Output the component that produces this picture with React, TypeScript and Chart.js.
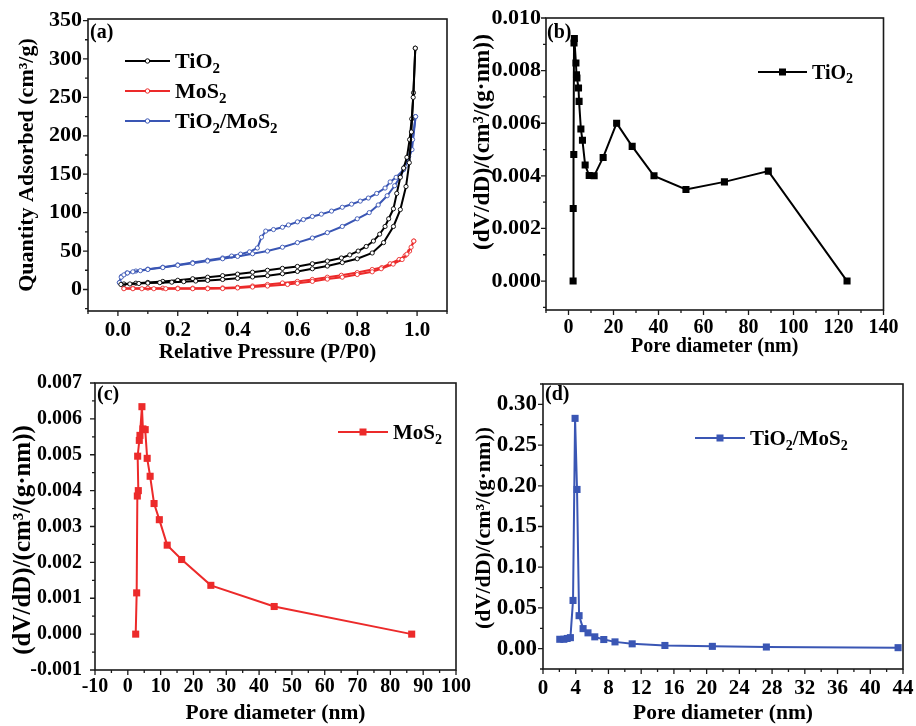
import React, { useEffect, useRef } from 'react';
import { Chart, registerables } from 'chart.js';

Chart.register(...registerables);

// ---------------- DATA ----------------
// (a) N2 adsorption-desorption isotherms: P/P0 vs quantity adsorbed (cm3/g)
const tio2AdsP = [0.010, 0.040, 0.070, 0.100, 0.140, 0.180, 0.220, 0.260, 0.300, 0.350, 0.400, 0.450, 0.500, 0.550, 0.600, 0.650, 0.700, 0.750, 0.800, 0.850, 0.888, 0.921, 0.944, 0.963, 0.974, 0.981, 0.987, 0.994];
const tio2AdsQ = [6.5, 7.2, 7.8, 8.3, 8.9, 9.5, 10.2, 11.0, 11.8, 13.0, 14.5, 16.3, 18.0, 20.5, 23.5, 27.0, 30.5, 35.0, 40.0, 47.5, 61, 82, 104, 134, 165, 205, 250, 314];
const tio2DesP = [0.994, 0.988, 0.982, 0.975, 0.966, 0.955, 0.944, 0.932, 0.921, 0.905, 0.893, 0.875, 0.854, 0.830, 0.803, 0.775, 0.747, 0.700, 0.650, 0.600, 0.550, 0.500, 0.450, 0.400, 0.350, 0.300, 0.250, 0.200, 0.150, 0.100, 0.060, 0.020];
const tio2DesQ = [314, 256, 222, 195, 172, 158, 146, 125, 105, 92, 82, 72, 63, 56, 50, 45, 41, 37, 33.5, 30, 27.5, 25, 22.5, 20, 18, 16, 14, 12, 10.5, 9.2, 8.2, 7.2];

const mos2AdsP = [0.02, 0.05, 0.08, 0.12, 0.16, 0.20, 0.25, 0.30, 0.35, 0.40, 0.45, 0.50, 0.567, 0.60, 0.65, 0.70, 0.75, 0.80, 0.85, 0.88, 0.92, 0.95, 0.966, 0.98, 0.989];
const mos2AdsQ = [1.0, 1.0, 1.0, 1.0, 1.0, 1.0, 1.0, 1.0, 1.2, 2.0, 3.2, 4.5, 6.5, 8.0, 10.5, 13.5, 16.0, 19.5, 23.0, 27.0, 33.0, 39.0, 46.0, 55.0, 63.0];
const mos2DesP = [0.989, 0.975, 0.960, 0.940, 0.910, 0.882, 0.850, 0.800, 0.747, 0.700, 0.650, 0.600, 0.550, 0.500, 0.450, 0.400, 0.350, 0.300, 0.250, 0.200, 0.150, 0.100, 0.050, 0.020];
const mos2DesQ = [63, 50, 44, 39, 33.5, 28.5, 26, 22, 18.5, 16, 13, 10.5, 8.5, 6.5, 4.5, 2.8, 2.0, 1.8, 1.7, 1.7, 1.7, 1.7, 1.7, 1.7];

const compAdsP = [0.005, 0.011, 0.020, 0.032, 0.050, 0.075, 0.100, 0.150, 0.200, 0.250, 0.300, 0.350, 0.400, 0.450, 0.500, 0.550, 0.600, 0.650, 0.700, 0.750, 0.800, 0.840, 0.870, 0.900, 0.925, 0.944, 0.960, 0.972, 0.985, 0.995];
const compAdsQ = [9, 16, 19, 21.5, 23, 24.5, 26, 28.5, 31.5, 34, 37, 40, 43, 46.5, 50, 55, 61, 67, 74, 82, 92, 100, 110, 122, 135, 147, 160, 173, 195, 225];
const compDesP = [0.995, 0.983, 0.970, 0.955, 0.930, 0.910, 0.893, 0.865, 0.837, 0.810, 0.781, 0.750, 0.714, 0.680, 0.650, 0.620, 0.600, 0.570, 0.550, 0.520, 0.494, 0.480, 0.466, 0.440, 0.410, 0.380, 0.350, 0.300, 0.250, 0.200, 0.150, 0.100, 0.060, 0.030, 0.012, 0.005];
const compDesQ = [225, 182, 168, 156, 146, 140, 132, 125, 119, 115, 111, 107, 102, 98, 95, 91, 88, 84, 81, 78, 76, 68, 54, 49, 46, 43.5, 41, 38, 35, 32, 29, 26.5, 24, 21.5, 17, 9];

// (b) TiO2 pore size distribution
const tio2PoreD = [2.05, 2.1, 2.35, 2.45, 2.6, 3.3, 3.55, 3.75, 4.45, 4.7, 5.5, 6.2, 7.4, 9.2, 11.4, 15.4, 21.4, 28.3, 38.0, 52.2, 69.3, 88.8, 123.8];
const tio2PoreV = [0, 0.00276, 0.00481, 0.00905, 0.00922, 0.00829, 0.00784, 0.00772, 0.00734, 0.00683, 0.00578, 0.00535, 0.00441, 0.00401, 0.004, 0.0047, 0.006, 0.00512, 0.004, 0.00348, 0.00377, 0.00418, 0];

// (c) MoS2 pore size distribution
const mos2PoreD = [2.4, 2.7, 2.9, 3.2, 3.0, 3.5, 3.7, 4.3, 4.6, 5.3, 5.9, 6.8, 8.0, 9.6, 12.0, 16.4, 25.3, 44.6, 86.5];
const mos2PoreV = [0, 0.00115, 0.00385, 0.004, 0.00496, 0.0054, 0.00554, 0.00634, 0.00572, 0.0057, 0.0049, 0.0044, 0.00364, 0.00319, 0.00248, 0.00208, 0.00136, 0.00077, 0];

// (d) TiO2/MoS2 pore size distribution
const compPoreD = [2.05, 2.55, 2.95, 3.35, 3.67, 3.92, 4.16, 4.41, 4.9, 5.5, 6.33, 7.43, 8.8, 10.9, 14.9, 20.7, 27.3, 43.4];
const compPoreV = [0.0115, 0.0115, 0.0125, 0.0135, 0.0592, 0.2828, 0.1955, 0.0405, 0.0246, 0.0194, 0.0145, 0.0112, 0.0083, 0.0059, 0.0039, 0.0028, 0.002, 0.0012];

// tick labels
const aXTicks = [0, 0.2, 0.4, 0.6, 0.8, 1.0];
const aYTicks = [0, 50, 100, 150, 200, 250, 300, 350];
const bXTicks = [0, 20, 40, 60, 80, 100, 120, 140];
const bYTicks = [0, 0.002, 0.004, 0.006, 0.008, 0.010];
const cXTicks = [-10, 0, 10, 20, 30, 40, 50, 60, 70, 80, 90, 100];
const cYTicks = [-0.001, 0, 0.001, 0.002, 0.003, 0.004, 0.005, 0.006, 0.007];
const dXTicks = [0, 4, 8, 12, 16, 20, 24, 28, 32, 36, 40, 44];
const dYTicks = [0, 0.05, 0.10, 0.15, 0.20, 0.25, 0.30];

const seriesNames = ['TiO₂', 'MoS₂', 'TiO₂/MoS₂'];
const panelTags = ['(a)', '(b)', '(c)', '(d)'];
const xTitles = ['Relative Pressure (P/P0)', 'Pore diameter (nm)', 'Pore diameter (nm)', 'Pore diameter (nm)'];
const yTitles = ['Quantity Adsorbed (cm³/g)', '(dV/dD)/(cm³/(g·nm))', '(dV/dD)/(cm³/(g·nm))', '(dV/dD)/(cm³/(g·nm))'];

// ---------------- STYLE ----------------
const FONT = '"Liberation Serif", "Times New Roman", serif';
const BLACK = '#000000';
const RED = '#ec2a2a';
const BLUE = '#3a56b4';
const seriesColors = [BLACK, RED, BLUE];

const pts = (xs: number[], ys: number[]) => xs.map((x, i) => ({ x, y: ys[i] }));

function drawRich(ctx: CanvasRenderingContext2D, text: string, x: number, y: number, size: number) {
  let cx = x;
  const base = y + size * 0.33;
  ctx.textAlign = 'left';
  ctx.textBaseline = 'alphabetic';
  for (const seg of text.split(/(₂)/)) {
    if (!seg) continue;
    if (seg === '₂') {
      ctx.font = `bold ${Math.round(size * 0.68)}px ${FONT}`;
      ctx.fillText('2', cx, base + size * 0.22);
      cx += ctx.measureText('2').width;
    } else {
      ctx.font = `bold ${size}px ${FONT}`;
      ctx.fillText(seg, cx, base);
      cx += ctx.measureText(seg).width;
    }
  }
}

const decorPlugin = {
  id: 'decor',
  afterDraw(chart: any) {
    const o = chart.options.plugins.decor;
    if (!o) return;
    const { ctx, chartArea: a } = chart;
    const xs = chart.scales.x;
    const ys = chart.scales.y;
    ctx.save();
    const marks = (min: number, max: number, minor: number, major: number, cb: (v: number, M: boolean) => void) => {
      const k0 = Math.ceil(min / minor - 1e-9);
      const k1 = Math.floor(max / minor + 1e-9);
      for (let k = k0; k <= k1; k++) {
        const v = k * minor;
        const r = v / major;
        cb(v, Math.abs(r - Math.round(r)) < 1e-6);
      }
    };
    ctx.strokeStyle = '#1a1a1a';
    ctx.lineWidth = 1.3;
    ctx.beginPath();
    marks(xs.min, xs.max, o.xMinor, o.xMajor, (v, M) => {
      const px = xs.getPixelForValue(v);
      ctx.moveTo(px, a.bottom);
      ctx.lineTo(px, a.bottom + (M ? 5 : 3));
    });
    marks(ys.min, ys.max, o.yMinor, o.yMajor, (v, M) => {
      const py = ys.getPixelForValue(v);
      ctx.moveTo(a.left, py);
      ctx.lineTo(a.left - (M ? 5 : 3), py);
    });
    ctx.stroke();
    ctx.lineWidth = 1.6;
    ctx.strokeRect(a.left, a.top, a.right - a.left, a.bottom - a.top);

    // y-axis title (rotated)
    ctx.fillStyle = '#000';
    ctx.save();
    ctx.translate(o.yTitleX, o.yTitleY);
    ctx.rotate(-Math.PI / 2);
    ctx.font = `bold ${o.yTitleSize}px ${FONT}`;
    ctx.textAlign = 'center';
    ctx.textBaseline = 'middle';
    ctx.fillText(o.yTitle, 0, 0);
    ctx.restore();

    // panel tag
    ctx.font = `bold ${o.tagSize}px ${FONT}`;
    ctx.textAlign = 'left';
    ctx.textBaseline = 'middle';
    ctx.fillText(o.tag, o.tagX, o.tagY);

    // legend
    for (const e of o.legend) {
      ctx.strokeStyle = e.color;
      ctx.lineWidth = 2;
      ctx.beginPath();
      ctx.moveTo(e.x1, e.y);
      ctx.lineTo(e.x2, e.y);
      ctx.stroke();
      const mx = (e.x1 + e.x2) / 2;
      if (e.marker === 'rect') {
        ctx.fillStyle = e.color;
        ctx.fillRect(mx - 3.5, e.y - 3.5, 7, 7);
      } else {
        ctx.fillStyle = '#fff';
        ctx.lineWidth = 1;
        ctx.beginPath();
        ctx.arc(mx, e.y, 2.2, 0, Math.PI * 2);
        ctx.fill();
        ctx.stroke();
      }
      ctx.fillStyle = '#000';
      drawRich(ctx, e.label, e.tx, e.y, e.size);
    }
    ctx.restore();
  },
};

type AxisSpec = {
  min: number; max: number; ticks: number[]; dec: number; minor: number; major: number;
  pad: number; tickSize: number; titleSize: number;
};
type PanelSpec = {
  idx: number;
  panelLeft: number;
  plot: { left: number; top: number; right: number; bottom: number };
  xH: number;
  xTitleY: number;
  yTitleX: number; yTitleY: number;
  x: AxisSpec; y: AxisSpec;
  datasets: any[];
  tagX: number; tagY: number;
  legend: any[];
};

const isoDs = (label: string, color: string, data: { x: number; y: number }[]) => ({
  label, data, borderColor: color, backgroundColor: color, borderWidth: 2,
  pointRadius: 2.1, pointBackgroundColor: '#ffffff', pointBorderColor: color, pointBorderWidth: 0.9,
  tension: 0,
});
const psdDs = (label: string, color: string, data: { x: number; y: number }[]) => ({
  label, data, borderColor: color, backgroundColor: color, borderWidth: 2,
  pointStyle: 'rect', pointRadius: 5, pointBackgroundColor: color, pointBorderColor: color, pointBorderWidth: 0,
  tension: 0,
});

const panels: PanelSpec[] = [
  {
    idx: 0, panelLeft: 0, plot: { left: 88, top: 19, right: 447, bottom: 311 }, xH: 62,
    xTitleY: 353, yTitleX: 27, yTitleY: 165,
    x: { min: -0.1, max: 1.1, ticks: aXTicks, dec: 1, minor: 0.1, major: 0.2, pad: 7, tickSize: 21, titleSize: 21 },
    y: { min: -28, max: 352, ticks: aYTicks, dec: 0, minor: 25, major: 50, pad: 6, tickSize: 22, titleSize: 22 },
    datasets: [
      isoDs(seriesNames[0], seriesColors[0], pts(tio2AdsP, tio2AdsQ)),
      isoDs(seriesNames[0], seriesColors[0], pts(tio2DesP, tio2DesQ)),
      isoDs(seriesNames[1], seriesColors[1], pts(mos2AdsP, mos2AdsQ)),
      isoDs(seriesNames[1], seriesColors[1], pts(mos2DesP, mos2DesQ)),
      isoDs(seriesNames[2], seriesColors[2], pts(compAdsP, compAdsQ)),
      isoDs(seriesNames[2], seriesColors[2], pts(compDesP, compDesQ)),
    ],
    tagX: 90, tagY: 33,
    legend: [
      { label: seriesNames[0], color: seriesColors[0], marker: 'circle', x1: 125, x2: 170, y: 61, tx: 175, size: 22 },
      { label: seriesNames[1], color: seriesColors[1], marker: 'circle', x1: 125, x2: 170, y: 91, tx: 175, size: 22 },
      { label: seriesNames[2], color: seriesColors[2], marker: 'circle', x1: 125, x2: 170, y: 121, tx: 175, size: 22 },
    ],
  },
  {
    idx: 1, panelLeft: 460, plot: { left: 546, top: 18, right: 883.5, bottom: 310 }, xH: 62,
    xTitleY: 347, yTitleX: 483, yTitleY: 142,
    x: { min: -10, max: 140, ticks: bXTicks, dec: 0, minor: 10, major: 20, pad: 6, tickSize: 20, titleSize: 20 },
    y: { min: -0.0011, max: 0.010, ticks: bYTicks, dec: 3, minor: 0.001, major: 0.002, pad: 5, tickSize: 22, titleSize: 23.5 },
    datasets: [psdDs(seriesNames[0], seriesColors[0], pts(tio2PoreD, tio2PoreV))],
    tagX: 547, tagY: 33,
    legend: [{ label: seriesNames[0], color: seriesColors[0], marker: 'rect', x1: 758, x2: 807, y: 72, tx: 812, size: 20 }],
  },
  {
    idx: 2, panelLeft: 0, plot: { left: 95, top: 383, right: 456, bottom: 670 }, xH: 56,
    xTitleY: 713, yTitleX: 24, yTitleY: 540,
    x: { min: -10, max: 100, ticks: cXTicks, dec: 0, minor: 5, major: 10, pad: 5, tickSize: 20, titleSize: 21.5 },
    y: { min: -0.001, max: 0.007, ticks: cYTicks, dec: 3, minor: 0.0005, major: 0.001, pad: 13, tickSize: 20, titleSize: 25 },
    datasets: [psdDs(seriesNames[1], seriesColors[1], pts(mos2PoreD, mos2PoreV))],
    tagX: 97, tagY: 395,
    legend: [{ label: seriesNames[1], color: seriesColors[1], marker: 'rect', x1: 338, x2: 388, y: 432, tx: 393, size: 21 }],
  },
  {
    idx: 3, panelLeft: 460, plot: { left: 543, top: 384, right: 903, bottom: 669 }, xH: 57,
    xTitleY: 713, yTitleX: 484, yTitleY: 528,
    x: { min: 0, max: 44, ticks: dXTicks, dec: 0, minor: 2, major: 4, pad: 7, tickSize: 21, titleSize: 21.5 },
    y: { min: -0.025, max: 0.325, ticks: dYTicks, dec: 2, minor: 0.025, major: 0.05, pad: 6, tickSize: 23, titleSize: 22 },
    datasets: [psdDs(seriesNames[2], seriesColors[2], pts(compPoreD, compPoreV))],
    tagX: 545, tagY: 395,
    legend: [{ label: seriesNames[2], color: seriesColors[2], marker: 'rect', x1: 695, x2: 745, y: 438, tx: 750, size: 21 }],
  },
];

function buildConfig(p: PanelSpec): any {
  const W = 916, H = 726;
  const yW = p.plot.left - p.panelLeft;
  const padBottom = H - p.plot.bottom - p.xH;
  const xLh = p.x.titleSize * 1.2;
  const xTitlePad = Math.max(0, p.plot.bottom + p.xH - xLh / 2 - p.xTitleY);
  const tickFont = (s: number) => ({ family: FONT, size: s, weight: 'bold' as const });
  return {
    type: 'line',
    data: { datasets: p.datasets },
    plugins: [decorPlugin],
    options: {
      animation: false,
      responsive: false,
      devicePixelRatio: 1,
      events: [],
      layout: { padding: { left: p.panelLeft, top: p.plot.top, right: W - p.plot.right, bottom: padBottom } },
      plugins: {
        legend: { display: false },
        tooltip: { enabled: false },
        decor: {
          xMinor: p.x.minor, xMajor: p.x.major, yMinor: p.y.minor, yMajor: p.y.major,
          yTitle: yTitles[p.idx], yTitleX: p.yTitleX, yTitleY: p.yTitleY, yTitleSize: p.y.titleSize,
          tag: panelTags[p.idx], tagX: p.tagX, tagY: p.tagY, tagSize: 20, legend: p.legend,
        },
      },
      scales: {
        x: {
          type: 'linear', min: p.x.min, max: p.x.max,
          afterBuildTicks: (s: any) => { s.ticks = p.x.ticks.map((v) => ({ value: v })); },
          afterFit: (s: any) => { s.height = p.xH; s.paddingLeft = 0; s.paddingRight = 0; },
          grid: { display: false, drawTicks: false },
          border: { display: false },
          ticks: {
            callback: (v: any) => Number(v).toFixed(p.x.dec),
            font: tickFont(p.x.tickSize), color: '#000', padding: p.x.pad, maxRotation: 0, autoSkip: false,
          },
          title: { display: true, text: xTitles[p.idx], color: '#000', font: tickFont(p.x.titleSize), padding: { top: 0, bottom: xTitlePad } },
        },
        y: {
          type: 'linear', min: p.y.min, max: p.y.max,
          afterBuildTicks: (s: any) => { s.ticks = p.y.ticks.map((v) => ({ value: v })); },
          afterFit: (s: any) => { s.width = yW; s.paddingTop = 0; s.paddingBottom = 0; },
          grid: { display: false, drawTicks: false },
          border: { display: false },
          ticks: {
            callback: (v: any) => Number(v).toFixed(p.y.dec),
            font: tickFont(p.y.tickSize), color: '#000', padding: p.y.pad, autoSkip: false,
          },
          title: { display: false },
        },
      },
    },
  };
}

function Panel({ spec }: { spec: PanelSpec }) {
  const ref = useRef<HTMLCanvasElement>(null);
  useEffect(() => {
    if (!ref.current) return;
    const chart = new Chart(ref.current, buildConfig(spec));
    return () => chart.destroy();
  }, [spec]);
  return <canvas ref={ref} width={916} height={726} style={{ position: 'absolute', left: 0, top: 0, width: 916, height: 726 }} />;
}

export default function App() {
  return (
    <div style={{ position: 'absolute', left: 0, top: 0, width: 916, height: 726, background: '#ffffff', overflow: 'hidden' }}>
      {panels.map((p, i) => <Panel key={i} spec={p} />)}
    </div>
  );
}
